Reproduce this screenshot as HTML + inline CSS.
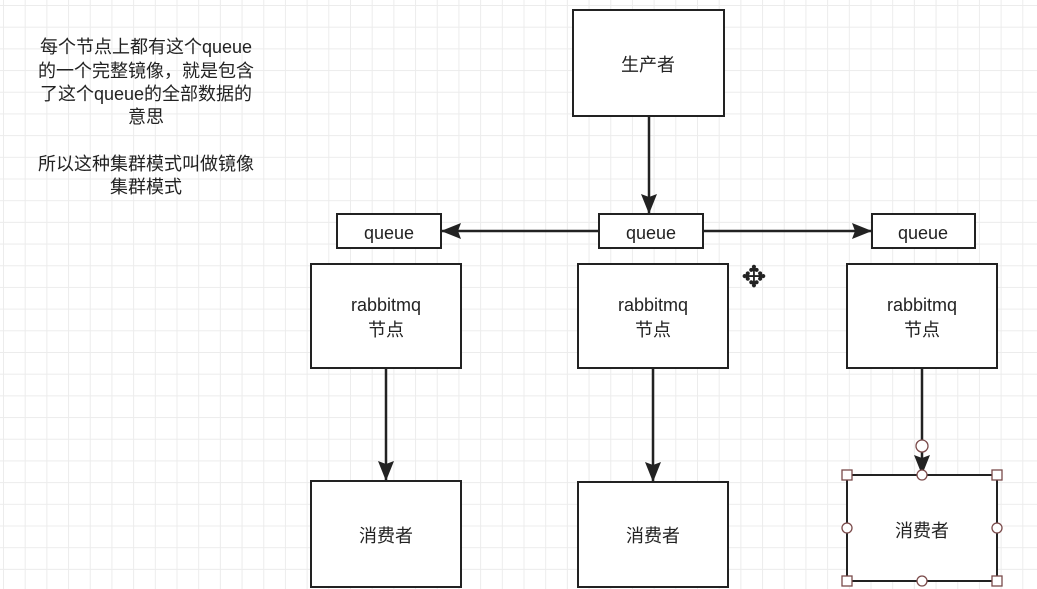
<!DOCTYPE html>
<html><head><meta charset="utf-8"><style>
html,body{margin:0;padding:0;}
body{width:1037px;height:589px;overflow:hidden;background:#fff;
background-image:linear-gradient(#ececec 1px,transparent 1px),linear-gradient(90deg,#ececec 1px,transparent 1px);
background-size:21.7px 21.7px;background-position:3px 5px;
font-family:"Liberation Sans","Noto Sans CJK SC",sans-serif;}
svg{position:absolute;left:0;top:0;}
text{font-family:"Liberation Sans","Noto Sans CJK SC",sans-serif;font-size:18px;fill:#222;text-anchor:middle;}
</style></head><body>
<svg width="1037" height="589" viewBox="0 0 1037 589">
<defs>
<marker id="b" markerWidth="20" markerHeight="20" refX="19" refY="10" orient="auto" markerUnits="userSpaceOnUse" viewBox="0 0 20 20"><path d="M0,2 L20,10 L0,18 L3,10 Z" fill="#222"/></marker></defs>
<g style="font-size:19.5px">
<text x="146" y="53">每个节点上都有这个queue</text>
<text x="146" y="77">的一个完整镜像，就是包含</text>
<text x="146" y="100">了这个queue的全部数据的</text>
<text x="146" y="123">意思</text>
<text x="146" y="170">所以这种集群模式叫做镜像</text>
<text x="146" y="193">集群模式</text>
</g>
<g fill="#fff" stroke="#222" stroke-width="2">
<rect x="573" y="10" width="151" height="106"/>
<rect x="337" y="214" width="104" height="34"/>
<rect x="599" y="214" width="104" height="34"/>
<rect x="872" y="214" width="103" height="34"/>
<rect x="311" y="264" width="150" height="104"/>
<rect x="578" y="264" width="150" height="104"/>
<rect x="847" y="264" width="150" height="104"/>
<rect x="311" y="481" width="150" height="106"/>
<rect x="578" y="482" width="150" height="105"/>
<rect x="847" y="475" width="150" height="106"/>
</g>
<g stroke="#222" stroke-width="2.5" fill="none">
<line x1="649" y1="116" x2="649" y2="213" marker-end="url(#b)"/>
<line x1="599" y1="231" x2="442" y2="231" marker-end="url(#b)"/>
<line x1="703" y1="231" x2="871" y2="231" marker-end="url(#b)"/>
<line x1="386" y1="368" x2="386" y2="480" marker-end="url(#b)"/>
<line x1="653" y1="368" x2="653" y2="481" marker-end="url(#b)"/>
<line x1="922" y1="368" x2="922" y2="474" marker-end="url(#b)"/>
</g>
<text x="648" y="71">生产者</text>
<text x="389" y="239">queue</text>
<text x="651" y="239">queue</text>
<text x="923" y="239">queue</text>
<text x="386" y="311">rabbitmq</text><text x="386" y="336">节点</text>
<text x="653" y="311">rabbitmq</text><text x="653" y="336">节点</text>
<text x="922" y="311">rabbitmq</text><text x="922" y="336">节点</text>
<text x="386" y="542">消费者</text>
<text x="653" y="542">消费者</text>
<text x="922" y="537">消费者</text>
<g fill="#fff" stroke="#7a4a4a" stroke-width="1.3">
<circle cx="922" cy="446" r="6"/>
<rect x="842" y="470" width="10" height="10"/><rect x="992" y="470" width="10" height="10"/>
<rect x="842" y="576" width="10" height="10"/><rect x="992" y="576" width="10" height="10"/>
<circle cx="922" cy="475" r="5"/><circle cx="922" cy="581" r="5"/>
<circle cx="847" cy="528" r="5"/><circle cx="997" cy="528" r="5"/>
</g>
<text x="754" y="287" style="font-size:30px" fill="#333">✥</text>
</svg>
</body></html>
